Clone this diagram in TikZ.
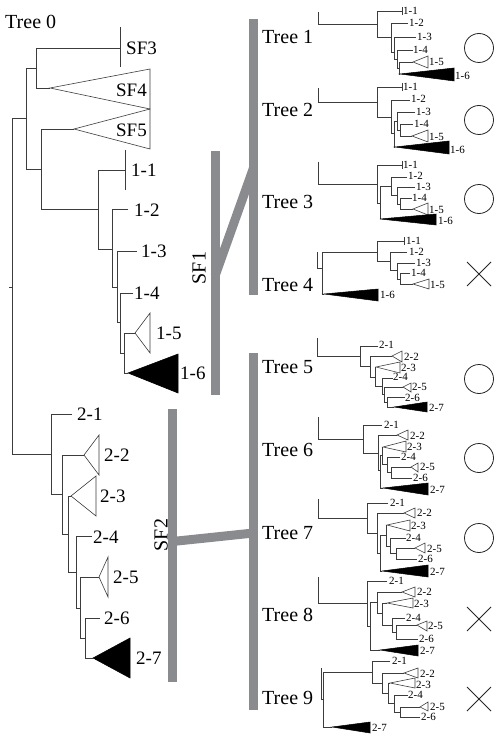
\documentclass[tikz,border=0pt]{standalone}
\usepackage{fontspec}
\setmainfont{Liberation Serif}
\usetikzlibrary{positioning}

\definecolor{bargray}{RGB}{138,139,143}
\definecolor{brgray}{RGB}{60,60,60}

\begin{document}
\begin{tikzpicture}[x=1pt, y=-1pt,
  br/.style={draw=brgray, line width=0.6pt},
  tri/.style={draw=brgray, line width=0.6pt, fill=white},
  blk/.style={draw=black, line width=0.5pt, fill=black},
  bar/.style={draw=bargray, line width=9pt},
  big/.style={font=\fontsize{20}{20}\selectfont, inner sep=0pt},
  leaf/.style={font=\fontsize{19}{19}\selectfont, inner sep=0pt, anchor=west},
  tip/.style={font=\fontsize{11}{11}\selectfont, inner sep=0pt, anchor=west},
  okmark/.style={draw=black!85, line width=0.8pt, fill=white, circle, minimum size=29pt, inner sep=0pt},
  nomark/.style={draw=black!85, line width=0.8pt},
]
  \path[fill=white] (0,0) rectangle (498,738);
  \useasboundingbox (0,0) rectangle (498,738);

  % Tree 0
  \node[big, anchor=west] (t0) at (5,22) {Tree 0};
  \draw[br] (9,287) -- (12,287);
  \draw[br] (26,118) -| (12,454) -- (51,454);
  \draw[br] (36,68) -| (26,169) -- (41,169);
  \draw[br] (120,48) -| (36,88) -- (50,88);
  \draw[br] (120,27) -- (120,67);
  \draw[tri] (50,88) -- (150,69) -- (150,109) -- cycle;
  \draw[tri] (74,129) -- (150,109) -- (150,149) -- cycle;
  \node[leaf] (sf3) at (126,48) {SF3};
  \node[leaf, anchor=east] (sf4) at (147,90) {SF4};
  \node[leaf, anchor=east] (sf5) at (147,130) {SF5};
  % clade 1
  \draw[br] (74,129) -| (41,209) -- (98,209);
  \draw[br] (125,170) -| (98,249) -- (112,249);
  \draw[br] (125,150) -- (125,190);
  \draw[br] (128,209) -| (112,287) -- (117,287);
  \draw[br] (137,251) -| (117,322) -- (120,322);
  \draw[br] (133,293) -| (120,353) -- (124,353);
  \draw[br] (135,333) -| (124,373) -- (128,373);
  \draw[tri] (135,333) -- (150,313) -- (150,353) -- cycle;
  \draw[blk] (128,373) -- (178,354) -- (178,393) -- cycle;
  \node[leaf] (z11) at (131,170) {1-1};
  \node[leaf] (z12) at (134,210) {1-2};
  \node[leaf] (z13) at (141,251) {1-3};
  \node[leaf] (z14) at (134,293) {1-4};
  \node[leaf] (z15) at (156,333) {1-5};
  \node[leaf] (z16) at (180,373) {1-6};
  % clade 2
  \draw[br] (72,414) -| (51,494) -- (62,494);
  \draw[br] (84,455) -| (62,534) -- (68,534);
  \draw[tri] (84,455) -- (99,435) -- (99,475) -- cycle;
  \draw[br] (71,496) -| (68,572) -- (76,572);
  \draw[tri] (71,496) -- (96,476) -- (96,516) -- cycle;
  \draw[br] (92,536) -| (76,608) -- (80,608);
  \draw[br] (99,577) -| (80,638) -- (85,638);
  \draw[tri] (99,577) -- (108,557) -- (108,597) -- cycle;
  \draw[br] (100,618) -| (85,658) -- (93,658);
  \draw[blk] (93,658) -- (130,638) -- (130,678) -- cycle;
  \node[leaf] (z21) at (77,414) {2-1};
  \node[leaf] (z22) at (104,455) {2-2};
  \node[leaf] (z23) at (100,496) {2-3};
  \node[leaf] (z24) at (93,537) {2-4};
  \node[leaf] (z25) at (113,577) {2-5};
  \node[leaf] (z26) at (104,618) {2-6};
  \node[leaf] (z27) at (136,658) {2-7};

  % grey bars
  \coordinate (sf1t) at (215,151);  \coordinate (sf1b) at (215,395);
  \coordinate (sf2t) at (172.5,409); \coordinate (sf2b) at (172.5,682);
  \coordinate (m1t) at (253.5,19);  \coordinate (m1b) at (253.5,295);
  \coordinate (m2t) at (253.5,353); \coordinate (m2b) at (253.5,710);
  \coordinate (sf1j) at (215,276);  \coordinate (m1j) at (253.5,168);
  \coordinate (sf2j) at (172.5,541.5); \coordinate (m2j) at (253.5,533);
  \draw[bar] (sf1t) -- (sf1b);
  \draw[bar] (sf2t) -- (sf2b);
  \draw[bar] (m1t) -- (m1b);
  \draw[bar] (m2t) -- (m2b);
  \draw[bar] (sf1j) -- (m1j);
  \draw[bar] (sf2j) -- (m2j);
  \node[big, rotate=90] (sf1) at (199,268) {SF1};
  \node[big, rotate=90] (sf2) at (161,535) {SF2};
  \foreach \k/\y in {1/37,2/110,3/202,4/285,5/367,6/450,7/533,8/615,9/698}
    \node[big, anchor=west] (t\k) at (262,\y) {Tree \k};

  % Tree 1
  \draw[br] (318,12) |- (377,24);
  \draw[br] (402,11) -| (377,37) -- (391,37);
  \draw[br] (402,7) -- (402,15);
  \draw[br] (408,23) -| (391,52) -- (394,52);
  \draw[br] (416,37) -| (394,59) -- (397,59);
  \draw[br] (413,50) -| (397,68) -- (399,68);
  \draw[br] (413,62) -| (399,74) -- (400,74);
  \draw[tri] (413,62) -- (428,56) -- (428,68) -- cycle;
  \draw[blk] (400,74) -- (454,68) -- (454,81) -- cycle;
  \node[tip] (a11) at (403,11) {1-1};
  \node[tip] (a12) at (409,23) {1-2};
  \node[tip] (a13) at (417,37) {1-3};
  \node[tip] (a14) at (413,50) {1-4};
  \node[tip] (a15) at (429,62) {1-5};
  \node[tip] (a16) at (455,76) {1-6};

  % Tree 2
  \draw[br] (318,88) |- (377,102);
  \draw[br] (402,87) -| (377,117) -- (391,117);
  \draw[br] (402,83) -- (402,91);
  \draw[br] (410,100) -| (391,133) -- (394,133);
  \draw[br] (397,121) -| (394,147) -- (395,147);
  \draw[br] (415,112) -| (397,130) -- (400,130);
  \draw[br] (413,124) -| (400,136) -- (412,136);
  \draw[tri] (412,136) -- (428,130) -- (428,142) -- cycle;
  \draw[blk] (395,147) -- (449,141) -- (449,154) -- cycle;
  \node[tip] (b11) at (403,87) {1-1};
  \node[tip] (b12) at (411,99) {1-2};
  \node[tip] (b13) at (416,112) {1-3};
  \node[tip] (b14) at (414,124) {1-4};
  \node[tip] (b15) at (429,137) {1-5};
  \node[tip] (b16) at (450,150) {1-6};

  % Tree 3
  \draw[br] (318,162) |- (377,184);
  \draw[br] (402,165) -| (377,203) -- (380,203);
  \draw[br] (402,161) -- (402,169);
  \draw[br] (391,186) -| (380,219);
  \draw[br] (407,177) -| (391,195) -- (397,195);
  \draw[br] (415,187) -| (397,204) -- (400,204);
  \draw[br] (412,198) -| (400,209) -- (413,209);
  \draw[tri] (413,209) -- (428,203) -- (428,215) -- cycle;
  \draw[blk] (380,219) -- (436,214) -- (436,225) -- cycle;
  \node[tip] (c11) at (403,165) {1-1};
  \node[tip] (c12) at (408,176) {1-2};
  \node[tip] (c13) at (416,187) {1-3};
  \node[tip] (c14) at (412,198) {1-4};
  \node[tip] (c15) at (429,210) {1-5};
  \node[tip] (c16) at (438,221) {1-6};

  % Tree 4
  \draw[br] (317,252) |- (322,268);
  \draw[br] (377,252) -| (322,294) -- (324,294);
  \draw[br] (404,241) -| (377,261) -- (390,261);
  \draw[br] (404,237) -- (404,245);
  \draw[br] (407,252) -| (390,270) -- (397,270);
  \draw[br] (415,263) -| (397,279) -- (400,279);
  \draw[br] (410,273) -| (400,284) -- (413,284);
  \draw[tri] (413,284) -- (429,279) -- (429,289) -- cycle;
  \draw[blk] (324,294) -- (378,289) -- (378,301) -- cycle;
  \node[tip] (d11) at (406,241) {1-1};
  \node[tip] (d12) at (409,252) {1-2};
  \node[tip] (d13) at (416,263) {1-3};
  \node[tip] (d14) at (411,273) {1-4};
  \node[tip] (d15) at (430,285) {1-5};
  \node[tip] (d16) at (380,295) {1-6};

  % Tree 5
  \draw[br] (317,338) |- (360,356);
  \draw[br] (378,346) -| (360,366) -- (370,366);
  \draw[br] (392,356) -| (370,377) -- (375,377);
  \draw[br] (376,367) -| (375,386) -- (382,386);
  \draw[br] (393,378) -| (382,394) -- (384,394);
  \draw[br] (403,387) -| (384,402) -- (387,402);
  \draw[br] (405,397) -| (387,407) -- (394,407);
  \draw[tri] (392,356) -- (402,351) -- (402,362) -- cycle;
  \draw[tri] (376,367) -- (400,362) -- (400,373) -- cycle;
  \draw[tri] (403,387) -- (411,383) -- (411,392) -- cycle;
  \draw[blk] (394,407) -- (427,402) -- (427,412) -- cycle;
  \node[tip] (e21) at (379,345) {2-1};
  \node[tip] (e22) at (404,357) {2-2};
  \node[tip] (e23) at (401,368) {2-3};
  \node[tip] (e24) at (393,377) {2-4};
  \node[tip] (e25) at (412,387) {2-5};
  \node[tip] (e26) at (405,398) {2-6};
  \node[tip] (e27) at (429,408) {2-7};

  % Tree 6
  \draw[br] (318,417) |- (363,439);
  \draw[br] (382,425) -| (363,453) -- (378,453);
  \draw[br] (397,435) -| (378,470) -- (380,470);
  \draw[br] (382,455) -| (380,488) -- (383,488);
  \draw[br] (383,447) -| (382,464) -- (387,464);
  \draw[br] (400,457) -| (387,472) -- (391,472);
  \draw[br] (411,467) -| (391,478) -- (412,478);
  \draw[tri] (397,435) -- (408,430) -- (408,440) -- cycle;
  \draw[tri] (383,447) -- (406,441) -- (406,452) -- cycle;
  \draw[tri] (411,467) -- (418,463) -- (418,472) -- cycle;
  \draw[blk] (383,488) -- (428,483) -- (428,495) -- cycle;
  \node[tip] (f21) at (384,425) {2-1};
  \node[tip] (f22) at (410,436) {2-2};
  \node[tip] (f23) at (407,447) {2-3};
  \node[tip] (f24) at (401,457) {2-4};
  \node[tip] (f25) at (420,467) {2-5};
  \node[tip] (f26) at (413,478) {2-6};
  \node[tip] (f27) at (430,490) {2-7};

  % Tree 7
  \draw[br] (318,499) |- (367,518);
  \draw[br] (388,503) -| (367,533) -- (377,533);
  \draw[br] (404,513) -| (377,553) -- (380,553);
  \draw[br] (386,535) -| (380,571) -- (382,571);
  \draw[br] (387,525) -| (386,546) -- (390,546);
  \draw[br] (406,538) -| (390,553) -- (396,553);
  \draw[br] (415,548) -| (396,559) -- (417,559);
  \draw[tri] (404,513) -- (415,508) -- (415,518) -- cycle;
  \draw[tri] (387,525) -- (410,520) -- (410,531) -- cycle;
  \draw[tri] (415,548) -- (425,543) -- (425,553) -- cycle;
  \draw[blk] (382,571) -- (428,565) -- (428,577) -- cycle;
  \node[tip] (g21) at (390,503) {2-1};
  \node[tip] (g22) at (417,513) {2-2};
  \node[tip] (g23) at (411,526) {2-3};
  \node[tip] (g24) at (406,538) {2-4};
  \node[tip] (g25) at (427,549) {2-5};
  \node[tip] (g26) at (418,559) {2-6};
  \node[tip] (g27) at (430,572) {2-7};

  % Tree 8
  \draw[br] (318,577) |- (367,603);
  \draw[br] (387,581) -| (367,626) -- (370,626);
  \draw[br] (377,602) -| (370,650) -- (380,650);
  \draw[br] (402,592) -| (377,613) -- (382,613);
  \draw[br] (387,603) -| (382,625) -- (392,625);
  \draw[br] (405,618) -| (392,632) -- (396,632);
  \draw[br] (417,625) -| (396,639) -- (418,639);
  \draw[tri] (402,592) -- (415,587) -- (415,597) -- cycle;
  \draw[tri] (387,603) -- (413,598) -- (413,608) -- cycle;
  \draw[tri] (417,625) -- (427,621) -- (427,631) -- cycle;
  \draw[blk] (380,650) -- (418,645) -- (418,656) -- cycle;
  \node[tip] (h21) at (389,581) {2-1};
  \node[tip] (h22) at (417,592) {2-2};
  \node[tip] (h23) at (414,604) {2-3};
  \node[tip] (h24) at (406,618) {2-4};
  \node[tip] (h25) at (428,626) {2-5};
  \node[tip] (h26) at (419,639) {2-6};
  \node[tip] (h27) at (420,651) {2-7};

  % Tree 9
  \draw[br] (321,668) |- (323,699);
  \draw[br] (372,672) -| (323,727) -- (332,727);
  \draw[br] (390,661) -| (372,683) -- (382,683);
  \draw[br] (404,673) -| (382,693) -- (388,693);
  \draw[br] (390,683) -| (388,703) -- (394,703);
  \draw[br] (408,695) -| (394,712) -- (400,712);
  \draw[br] (420,707) -| (400,717) -- (420,717);
  \draw[tri] (404,673) -- (418,668) -- (418,678) -- cycle;
  \draw[tri] (390,683) -- (415,678) -- (415,688) -- cycle;
  \draw[tri] (420,707) -- (428,702) -- (428,711) -- cycle;
  \draw[blk] (332,727) -- (370,722) -- (370,733) -- cycle;
  \node[tip] (i21) at (392,661) {2-1};
  \node[tip] (i22) at (420,674) {2-2};
  \node[tip] (i23) at (416,685) {2-3};
  \node[tip] (i24) at (408,695) {2-4};
  \node[tip] (i25) at (430,707) {2-5};
  \node[tip] (i26) at (421,717) {2-6};
  \node[tip] (i27) at (372,728) {2-7};

  % circles and crosses
  \foreach \k/\y in {1/48,2/120,3/199,5/379,6/458,7/538}
    \node[okmark] (ok\k) at (479,\y) {};
  \foreach \k/\y in {4/274,8/619,9/699}
    \draw[nomark] (467,\y-12) -- (491,\y+12) (467,\y+12) -- (491,\y-12);
\end{tikzpicture}
\end{document}
